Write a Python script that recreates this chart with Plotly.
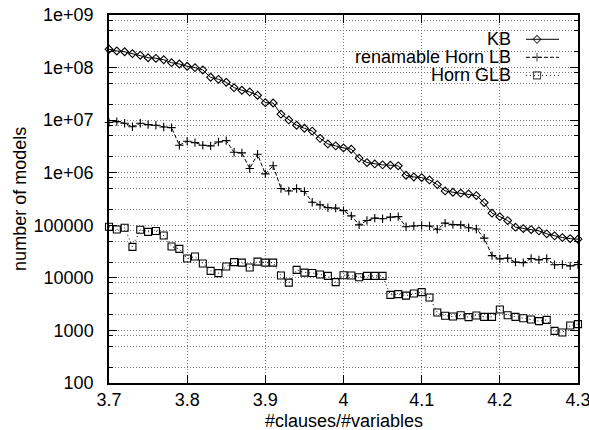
import plotly.graph_objects as go

ratio = [round(3.70 + 0.01 * i, 2) for i in range(61)]

kb = [2.23e8, 2.07e8, 2.0e8, 1.84e8, 1.71e8, 1.54e8, 1.50e8, 1.41e8, 1.24e8, 1.17e8,
      1.06e8, 9.96e7, 9.0e7, 6.53e7, 5.98e7, 5.25e7, 4.15e7, 3.70e7, 3.44e7, 2.97e7,
      2.15e7, 2.12e7, 1.30e7, 1.01e7, 8.0e6, 7.0e6, 6.2e6, 4.5e6, 3.53e6, 3.24e6,
      2.96e6, 2.80e6, 1.89e6, 1.56e6, 1.47e6, 1.41e6, 1.39e6, 1.35e6, 8.95e5, 8.3e5,
      8.07e5, 7.3e5, 5.94e5, 4.51e5, 4.26e5, 4.08e5, 3.95e5, 3.67e5, 2.70e5, 1.70e5,
      1.46e5, 1.23e5, 9.2e4, 8.65e4, 8.28e4, 7.83e4, 6.87e4, 6.29e4, 5.84e4, 5.58e4,
      5.43e4]

renamable_lb = [9.0e6, 9.36e6, 8.7e6, 7.5e6, 8.7e6, 8.2e6, 8.0e6, 7.43e6, 7.2e6, 3.33e6,
                3.97e6, 3.73e6, 3.33e6, 3.24e6, 3.85e6, 4.08e6, 2.45e6, 2.38e6, 1.2e6, 2.25e6,
                9.5e5, 1.36e6, 5.0e5, 4.5e5, 5.0e5, 4.4e5, 2.75e5, 2.44e5, 2.17e5, 2.12e5,
                1.9e5, 1.51e5, 1.02e5, 1.23e5, 1.37e5, 1.33e5, 1.43e5, 1.46e5, 9.4e4, 9.7e4,
                9.9e4, 9.7e4, 8.4e4, 1.1e5, 1.03e5, 1.02e5, 9.0e4, 8.5e4, 5.7e4, 2.65e4,
                2.3e4, 2.37e4, 1.99e4, 1.95e4, 2.33e4, 2.2e4, 2.33e4, 1.77e4, 1.79e4, 1.69e4,
                1.79e4]

horn_glb = [9.4e4, 8.3e4, 9.0e4, 3.88e4, 8.2e4, 7.5e4, 7.8e4, 6.4e4, 3.94e4, 3.56e4,
            2.33e4, 2.54e4, 1.87e4, 1.36e4, 1.23e4, 1.64e4, 1.99e4, 1.95e4, 1.57e4, 2.04e4,
            1.95e4, 1.95e4, 1.11e4, 8.1e3, 1.42e4, 1.26e4, 1.24e4, 1.16e4, 1.09e4, 8.3e3,
            1.12e4, 1.11e4, 1.03e4, 1.09e4, 1.09e4, 1.09e4, 4.75e3, 4.9e3, 4.6e3, 5.03e3,
            5.35e3, 4.23e3, 2.19e3, 1.9e3, 1.84e3, 1.95e3, 1.79e3, 1.92e3, 1.81e3, 1.81e3,
            2.5e3, 1.95e3, 1.81e3, 1.71e3, 1.61e3, 1.5e3, 1.59e3, 982, 912, 1.24e3,
            1.32e3]

x_ticks = [3.7, 3.8, 3.9, 4.0, 4.1, 4.2, 4.3]
x_ticktext = ["3.7", "3.8", "3.9", "4", "4.1", "4.2", "4.3"]
y_ticks = [1e2, 1e3, 1e4, 1e5, 1e6, 1e7, 1e8, 1e9]
y_ticktext = ["100", "1000", "10000", "100000", "1e+06", "1e+07", "1e+08", "1e+09"]
y_minor = [m * 10 ** e for e in range(2, 9) for m in (2, 5, 8)]

series = [
    ("KB", kb, "diamond-open", 6, "solid"),
    ("renamable Horn LB", renamable_lb, "cross-thin-open", 6, "4px,2px"),
    ("Horn GLB", horn_glb, "square-open", 7, "1px,3px"),
]

FONT = "Liberation Sans, Arial, sans-serif"
fig = go.Figure()
for name, vals, sym, size, dash in series:
    fig.add_trace(go.Scatter(
        x=ratio, y=vals, mode="lines+markers", name=name,
        line=dict(color="black", width=1, dash=dash),
        marker=dict(symbol=sym, size=size, color="black",
                    line=dict(color="black", width=1.1)),
        cliponaxis=False, showlegend=False))

# custom legend (text right-aligned, sample on the right, like gnuplot)
leg_rows = [0.934, 0.885, 0.836]
for (name, vals, sym, size, dash), ly in zip(series, leg_rows):
    fig.add_trace(go.Scatter(
        x=[0.889, 0.9126, 0.9595], y=[ly, ly, ly], xaxis="x2", yaxis="y2",
        mode="lines+markers", showlegend=False, hoverinfo="skip",
        line=dict(color="black", width=1, dash=dash),
        marker=dict(symbol=sym, size=[0, size, 0], color="black",
                    line=dict(color="black", width=1.1)),
        cliponaxis=False))
    fig.add_annotation(x=0.8614, y=ly, xref="x2 domain", yref="y2 domain",
                       text=name, showarrow=False, xanchor="right", yanchor="middle",
                       font=dict(family=FONT, size=18, color="black"))

# axis titles
fig.add_annotation(x=0.5, y=-0.103, xref="paper", yref="paper",
                   text="#clauses/#variables", showarrow=False,
                   xanchor="center", yanchor="middle",
                   font=dict(family=FONT, size=18, color="black"))
fig.add_annotation(x=-0.19, y=0.5, xref="paper", yref="paper",
                   text="number of models", showarrow=False, textangle=-90,
                   xanchor="center", yanchor="middle",
                   font=dict(family=FONT, size=18, color="black"))

fig.update_layout(
    width=589, height=430,
    margin=dict(l=109, r=11, t=15, b=47, autoexpand=False),
    paper_bgcolor="white", plot_bgcolor="white",
    font=dict(family=FONT, size=18, color="black"),
    xaxis=dict(
        range=[3.7, 4.3], tickvals=x_ticks, ticktext=x_ticktext,
        ticks="inside", ticklen=8, tickcolor="black", tickwidth=1,
        showline=True, linecolor="black", linewidth=1.5, mirror="allticks",
        showgrid=True, gridcolor="#777", griddash="1px,2px", gridwidth=1,
        zeroline=False, ticklabelstandoff=0, automargin=False,
        ticklabeloverflow="allow"),
    yaxis=dict(
        type="log", range=[2, 9], tickvals=y_ticks, ticktext=y_ticktext,
        ticks="inside", ticklen=8, tickcolor="black", tickwidth=1,
        showline=True, linecolor="black", linewidth=1.5, mirror="allticks",
        showgrid=True, gridcolor="#777", griddash="1px,2px", gridwidth=1,
        zeroline=False, ticklabelstandoff=10, automargin=False,
        ticklabeloverflow="allow",
        minor=dict(tickvals=y_minor, ticks="inside", ticklen=4, tickcolor="black",
                   showgrid=True, gridcolor="#777", griddash="1px,2px", gridwidth=1)),
    xaxis2=dict(range=[0, 1], overlaying="x", visible=False, fixedrange=True),
    yaxis2=dict(range=[0, 1], overlaying="y", visible=False, fixedrange=True),
)

fig.write_html("out.html", config={"displayModeBar": False},
               post_script="document.body.style.margin='0';document.body.style.overflow='hidden';")
